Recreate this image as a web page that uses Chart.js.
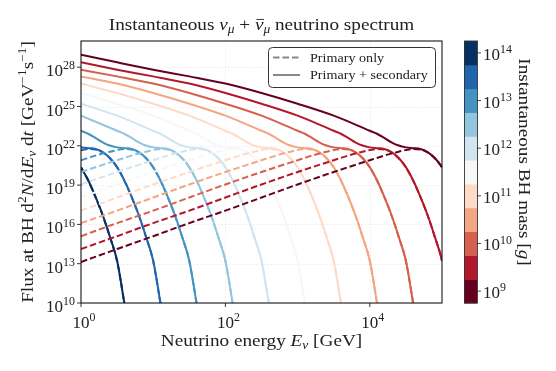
<!DOCTYPE html>
<html>
<head>
<meta charset="utf-8">
<script src="https://cdn.jsdelivr.net/npm/chart.js@4.4.1/dist/chart.umd.min.js"></script>
<style>
  html, body { margin: 0; padding: 0; background: #fff; }
  #wrap { width: 556px; height: 371px; }
</style>
</head>
<body>
<div id="wrap"><canvas id="spec" width="556" height="371"></canvas></div>
<script>
// axis ticks (powers of ten)
const xTickExps = [0, 2, 4];
const yTickExps = [10, 13, 16, 19, 22, 25, 28];

// black hole masses (log10 g) and their colours, lightest BH first
const massExps = [9, 9.5, 10, 10.5, 11, 11.5, 12, 12.5, 13, 13.5, 14];
const massColors = ['#67001f', '#b2182b', '#d6604d', '#f4a582', '#fddbc7', '#f7f7f7',
                    '#d1e5f0', '#92c5de', '#4393c3', '#2166ac', '#053061'];
const cbTickExps = [9, 10, 11, 12, 13, 14];

// curves: [log10 E/GeV, log10 flux]
// primary + secondary (solid)
const total_9_0 = [[0,28.95],[0.5,28.37],[1,27.81],[1.5,27.3],[2,26.75],[2.5,26.03],[3,25.21],[3.5,24.3],[4,23.15],[4.1,22.92],[4.2,22.6],[4.3,22.27],[4.4,22.02],[4.5,21.88],[4.6,21.82],[4.7,21.76],[4.8,21.52],[4.9,21.07],[5,20.37],[5.1,19.37]];
const total_9_5 = [[0,28.37],[0.5,27.81],[1,27.3],[1.5,26.75],[2,26.03],[2.5,25.21],[3,24.3],[3.5,23.15],[3.6,22.92],[3.7,22.6],[3.8,22.27],[3.9,22.02],[4,21.88],[4.1,21.82],[4.2,21.76],[4.3,21.52],[4.4,21.07],[4.5,20.37],[4.6,19.37],[4.7,18.12],[4.8,16.72],[4.9,15.07],[5,13.22],[5.1,10],[5.15,8.3]];
const total_10_0 = [[0,27.81],[0.5,27.3],[1,26.75],[1.5,26.03],[2,25.21],[2.5,24.3],[3,23.15],[3.1,22.92],[3.2,22.6],[3.3,22.27],[3.4,22.02],[3.5,21.88],[3.6,21.82],[3.7,21.76],[3.8,21.52],[3.9,21.07],[4,20.37],[4.1,19.37],[4.2,18.12],[4.3,16.72],[4.4,15.07],[4.5,13.22],[4.6,10],[4.65,8.3]];
const total_10_5 = [[0,27.3],[0.5,26.75],[1,26.03],[1.5,25.21],[2,24.3],[2.5,23.15],[2.6,22.92],[2.7,22.6],[2.8,22.27],[2.9,22.02],[3,21.88],[3.1,21.82],[3.2,21.76],[3.3,21.52],[3.4,21.07],[3.5,20.37],[3.6,19.37],[3.7,18.12],[3.8,16.72],[3.9,15.07],[4,13.22],[4.1,10],[4.15,8.3]];
const total_11_0 = [[0,26.75],[0.5,26.03],[1,25.21],[1.5,24.3],[2,23.15],[2.1,22.92],[2.2,22.6],[2.3,22.27],[2.4,22.02],[2.5,21.88],[2.6,21.82],[2.7,21.76],[2.8,21.52],[2.9,21.07],[3,20.37],[3.1,19.37],[3.2,18.12],[3.3,16.72],[3.4,15.07],[3.5,13.22],[3.6,10],[3.65,8.3]];
const total_11_5 = [[0,26.03],[0.5,25.21],[1,24.3],[1.5,23.15],[1.6,22.92],[1.7,22.6],[1.8,22.27],[1.9,22.02],[2,21.88],[2.1,21.82],[2.2,21.76],[2.3,21.52],[2.4,21.07],[2.5,20.37],[2.6,19.37],[2.7,18.12],[2.8,16.72],[2.9,15.07],[3,13.22],[3.1,10],[3.15,8.3]];
const total_12_0 = [[0,25.21],[0.5,24.3],[1,23.15],[1.1,22.92],[1.2,22.6],[1.3,22.27],[1.4,22.02],[1.5,21.88],[1.6,21.82],[1.7,21.76],[1.8,21.52],[1.9,21.07],[2,20.37],[2.1,19.37],[2.2,18.12],[2.3,16.72],[2.4,15.07],[2.5,13.22],[2.6,10],[2.65,8.3]];
const total_12_5 = [[0,24.3],[0.5,23.15],[0.6,22.92],[0.7,22.6],[0.8,22.27],[0.9,22.02],[1,21.88],[1.1,21.82],[1.2,21.76],[1.3,21.52],[1.4,21.07],[1.5,20.37],[1.6,19.37],[1.7,18.12],[1.8,16.72],[1.9,15.07],[2,13.22],[2.1,10],[2.15,8.3]];
const total_13_0 = [[0,23.15],[0.1,22.92],[0.2,22.6],[0.3,22.27],[0.4,22.02],[0.5,21.88],[0.6,21.82],[0.7,21.76],[0.8,21.52],[0.9,21.07],[1,20.37],[1.1,19.37],[1.2,18.12],[1.3,16.72],[1.4,15.07],[1.5,13.22],[1.6,10],[1.65,8.3]];
const total_13_5 = [[0,21.88],[0.1,21.82],[0.2,21.76],[0.3,21.52],[0.4,21.07],[0.5,20.37],[0.6,19.37],[0.7,18.12],[0.8,16.72],[0.9,15.07],[1,13.22],[1.1,10],[1.15,8.3]];
const total_14_0 = [[0,20.37],[0.1,19.37],[0.2,18.12],[0.3,16.72],[0.4,15.07],[0.5,13.22],[0.6,10],[0.65,8.3]];

// primary only (dashed)
const primary_9_0 = [[0,13.13],[0.5,14.12],[1,15.1],[1.5,16.1],[2,17.05],[2.5,18.05],[3,19.05],[3.5,20],[4,20.9],[4.2,21.25],[4.4,21.55],[4.6,21.75],[4.7,21.72],[4.8,21.5],[4.9,21.05],[5,20.35],[5.1,19.35]];
const primary_9_5 = [[0,14.12],[0.5,15.1],[1,16.1],[1.5,17.05],[2,18.05],[2.5,19.05],[3,20],[3.5,20.9],[3.7,21.25],[3.9,21.55],[4.1,21.75],[4.2,21.72],[4.3,21.5],[4.4,21.05],[4.5,20.35],[4.6,19.35],[4.7,18.1],[4.8,16.7],[4.9,15.05],[5,13.2],[5.1,10],[5.15,8.3]];
const primary_10_0 = [[0,15.1],[0.5,16.1],[1,17.05],[1.5,18.05],[2,19.05],[2.5,20],[3,20.9],[3.2,21.25],[3.4,21.55],[3.6,21.75],[3.7,21.72],[3.8,21.5],[3.9,21.05],[4,20.35],[4.1,19.35],[4.2,18.1],[4.3,16.7],[4.4,15.05],[4.5,13.2],[4.6,10],[4.65,8.3]];
const primary_10_5 = [[0,16.1],[0.5,17.05],[1,18.05],[1.5,19.05],[2,20],[2.5,20.9],[2.7,21.25],[2.9,21.55],[3.1,21.75],[3.2,21.72],[3.3,21.5],[3.4,21.05],[3.5,20.35],[3.6,19.35],[3.7,18.1],[3.8,16.7],[3.9,15.05],[4,13.2],[4.1,10],[4.15,8.3]];
const primary_11_0 = [[0,17.05],[0.5,18.05],[1,19.05],[1.5,20],[2,20.9],[2.2,21.25],[2.4,21.55],[2.6,21.75],[2.7,21.72],[2.8,21.5],[2.9,21.05],[3,20.35],[3.1,19.35],[3.2,18.1],[3.3,16.7],[3.4,15.05],[3.5,13.2],[3.6,10],[3.65,8.3]];
const primary_11_5 = [[0,18.05],[0.5,19.05],[1,20],[1.5,20.9],[1.7,21.25],[1.9,21.55],[2.1,21.75],[2.2,21.72],[2.3,21.5],[2.4,21.05],[2.5,20.35],[2.6,19.35],[2.7,18.1],[2.8,16.7],[2.9,15.05],[3,13.2],[3.1,10],[3.15,8.3]];
const primary_12_0 = [[0,19.05],[0.5,20],[1,20.9],[1.2,21.25],[1.4,21.55],[1.6,21.75],[1.7,21.72],[1.8,21.5],[1.9,21.05],[2,20.35],[2.1,19.35],[2.2,18.1],[2.3,16.7],[2.4,15.05],[2.5,13.2],[2.6,10],[2.65,8.3]];
const primary_12_5 = [[0,20],[0.5,20.9],[0.7,21.25],[0.9,21.55],[1.1,21.75],[1.2,21.72],[1.3,21.5],[1.4,21.05],[1.5,20.35],[1.6,19.35],[1.7,18.1],[1.8,16.7],[1.9,15.05],[2,13.2],[2.1,10],[2.15,8.3]];
const primary_13_0 = [[0,20.9],[0.2,21.25],[0.4,21.55],[0.6,21.75],[0.7,21.72],[0.8,21.5],[0.9,21.05],[1,20.35],[1.1,19.35],[1.2,18.1],[1.3,16.7],[1.4,15.05],[1.5,13.2],[1.6,10],[1.65,8.3]];
const primary_13_5 = [[0,21.65],[0.1,21.75],[0.2,21.72],[0.3,21.5],[0.4,21.05],[0.5,20.35],[0.6,19.35],[0.7,18.1],[0.8,16.7],[0.9,15.05],[1,13.2],[1.1,10],[1.15,8.3]];
const primary_14_0 = [[0,20.35],[0.1,19.35],[0.2,18.1],[0.3,16.7],[0.4,15.05],[0.5,13.2],[0.6,10],[0.65,8.3]];

const totalCurves = [total_9_0, total_9_5, total_10_0, total_10_5, total_11_0, total_11_5,
                     total_12_0, total_12_5, total_13_0, total_13_5, total_14_0];
const primaryCurves = [primary_9_0, primary_9_5, primary_10_0, primary_10_5, primary_11_0, primary_11_5,
                       primary_12_0, primary_12_5, primary_13_0, primary_13_5, primary_14_0];

const FONT = '"Liberation Serif", "DejaVu Serif", serif';
const WIDE = 1.13;   // computer-modern letters run wider than Times
const toPts = arr => arr.map(p => ({ x: Math.pow(10, p[0]), y: Math.pow(10, p[1]) }));

const datasets = [];
massExps.forEach((m, i) => {
    datasets.push({
        label: 'total ' + m, data: toPts(totalCurves[i]), borderColor: massColors[i],
        borderWidth: 2, order: 1
    });
    datasets.push({
        label: 'primary ' + m, data: toPts(primaryCurves[i]), borderColor: massColors[i],
        borderWidth: 2, borderDash: [6.5, 3], order: 0
    });
});

// draws a string made of pieces (italic, sub/superscript, bar)
function richText(ctx, segs, x, y, size, align, sx) {
    sx = sx || 1;
    let w = 0;
    const parts = segs.map(s => {
        const small = s.sub || s.sup;
        const fs = small ? size * 0.7 : size;
        const font = (s.it ? 'italic ' : '') + fs + 'px ' + FONT;
        ctx.font = font;
        const sw = ctx.measureText(s.t).width * sx;
        w += sw;
        return { s, font, sw, fs, dy: s.sub ? size * 0.2 : (s.sup ? -size * 0.4 : 0) };
    });
    let cx = align === 'center' ? x - w / 2 : (align === 'right' ? x - w : x);
    ctx.textAlign = 'left';
    ctx.textBaseline = 'alphabetic';
    parts.forEach(p => {
        ctx.font = p.font;
        ctx.save();
        ctx.translate(cx, y + p.dy);
        ctx.scale(sx, 1);
        ctx.fillText(p.s.t, 0, 0);
        ctx.restore();
        if (p.s.bar) {
            ctx.save();
            ctx.lineWidth = 0.9;
            ctx.strokeStyle = ctx.fillStyle;
            ctx.beginPath();
            ctx.moveTo(cx + 1.5, y - p.fs * 0.62);
            ctx.lineTo(cx + p.sw + 0.5, y - p.fs * 0.62);
            ctx.stroke();
            ctx.restore();
        }
        cx += p.sw;
    });
    return w;
}

const decorations = {
    id: 'decorations',
    beforeDatasetsDraw(chart) {
        const { ctx, chartArea: a, scales } = chart;
        ctx.save();
        ctx.strokeStyle = 'rgba(0,0,0,0.08)';
        ctx.lineWidth = 0.8;
        ctx.setLineDash([2, 1.5]);
        xTickExps.forEach(e => {
            const px = Math.round(scales.x.getPixelForValue(Math.pow(10, e))) + 0.5;
            ctx.beginPath(); ctx.moveTo(px, a.top); ctx.lineTo(px, a.bottom); ctx.stroke();
        });
        yTickExps.forEach(e => {
            const py = Math.round(scales.y.getPixelForValue(Math.pow(10, e))) + 0.5;
            ctx.beginPath(); ctx.moveTo(a.left, py); ctx.lineTo(a.right, py); ctx.stroke();
        });
        ctx.restore();
    },
    afterDraw(chart) {
        const { ctx, chartArea: a, scales } = chart;
        ctx.save();
        // frame
        ctx.strokeStyle = '#000';
        ctx.lineWidth = 1;
        ctx.strokeRect(a.left, a.top, a.right - a.left, a.bottom - a.top);

        // ticks + labels
        ctx.fillStyle = '#222';
        ctx.strokeStyle = '#222';
        ctx.lineWidth = 0.9;
        xTickExps.forEach(e => {
            const px = scales.x.getPixelForValue(Math.pow(10, e));
            ctx.beginPath(); ctx.moveTo(px, a.bottom); ctx.lineTo(px, a.bottom + 4); ctx.stroke();
            richText(ctx, [{ t: '10' }, { t: String(e), sup: true }], px + 3, a.bottom + 25, 17, 'center');
        });
        yTickExps.forEach(e => {
            const py = scales.y.getPixelForValue(Math.pow(10, e));
            ctx.beginPath(); ctx.moveTo(a.left, py); ctx.lineTo(a.left - 4, py); ctx.stroke();
            richText(ctx, [{ t: '10' }, { t: String(e), sup: true }], a.left - 6, py + 9, 17, 'right');
        });

        // title
        ctx.fillStyle = '#222';
        richText(ctx, [
            { t: 'Instantaneous ' }, { t: 'ν', it: true }, { t: 'μ', it: true, sub: true },
            { t: ' + ' }, { t: 'ν', it: true, bar: true }, { t: 'μ', it: true, sub: true },
            { t: ' neutrino spectrum' }
        ], (a.left + a.right) / 2, 30, 17, 'center', WIDE);

        // x label
        richText(ctx, [
            { t: 'Neutrino energy ' }, { t: 'E', it: true }, { t: 'ν', it: true, sub: true }, { t: ' [GeV]' }
        ], (a.left + a.right) / 2, 346, 17, 'center', WIDE);

        // y label
        ctx.save();
        ctx.translate(33, (a.top + a.bottom) / 2);
        ctx.rotate(-Math.PI / 2);
        richText(ctx, [
            { t: 'Flux at BH d' }, { t: '2', sup: true }, { t: 'N', it: true }, { t: '/d' },
            { t: 'E', it: true }, { t: 'ν', it: true, sub: true }, { t: ' d' }, { t: 't', it: true },
            { t: ' [GeV' }, { t: '−1', sup: true }, { t: 's' }, { t: '−1', sup: true }, { t: ']' }
        ], 0, 0, 17, 'center', WIDE);
        ctx.restore();

        // legend
        const lx = 268, ly = 47, lw = 167, lh = 40;
        ctx.fillStyle = 'rgba(255,255,255,0.9)';
        ctx.strokeStyle = '#333';
        ctx.lineWidth = 1;
        ctx.beginPath();
        ctx.roundRect(lx + 0.5, ly + 0.5, lw, lh, 4);
        ctx.fill(); ctx.stroke();
        ctx.strokeStyle = '#888';
        ctx.lineWidth = 2;
        ctx.setLineDash([6.5, 3]);
        ctx.beginPath(); ctx.moveTo(273, 57.5); ctx.lineTo(300, 57.5); ctx.stroke();
        ctx.setLineDash([]);
        ctx.beginPath(); ctx.moveTo(273, 75); ctx.lineTo(300, 75); ctx.stroke();
        ctx.fillStyle = '#222';
        richText(ctx, [{ t: 'Primary only' }], 310, 61.5, 12.5, 'left', WIDE);
        richText(ctx, [{ t: 'Primary + secondary' }], 310, 79, 12.5, 'left', WIDE);

        // colour bar
        const cbL = 464, cbR = 477, cbT = a.top, cbB = a.bottom;
        const lo = massExps[0] - 0.25, hi = massExps[massExps.length - 1] + 0.25;
        const cy = v => cbB - (v - lo) / (hi - lo) * (cbB - cbT);
        massExps.forEach((m, i) => {
            ctx.fillStyle = massColors[i];
            const y0 = cy(m + 0.25), y1 = cy(m - 0.25);
            ctx.fillRect(cbL, y0, cbR - cbL, y1 - y0 + 0.5);
        });
        ctx.strokeStyle = '#333';
        ctx.lineWidth = 0.9;
        ctx.strokeRect(cbL + 0.5, cbT, cbR - cbL, cbB - cbT);
        ctx.fillStyle = '#222';
        cbTickExps.forEach(e => {
            const py = cy(e);
            ctx.beginPath(); ctx.moveTo(cbR, py); ctx.lineTo(cbR + 4, py); ctx.stroke();
            richText(ctx, [{ t: '10' }, { t: String(e), sup: true }], cbR + 6, py + 7, 17, 'left');
        });
        ctx.save();
        ctx.translate(519, 162);
        ctx.rotate(Math.PI / 2);
        richText(ctx, [{ t: 'Instantaneous BH mass [' }, { t: 'g', it: true }, { t: ']' }], 0, 0, 17, 'center', WIDE);
        ctx.restore();
        ctx.restore();
    }
};

new Chart(document.getElementById('spec'), {
    type: 'line',
    data: { datasets: datasets },
    options: {
        responsive: false,
        animation: false,
        devicePixelRatio: 1,
        layout: { padding: { left: 81, right: 114, top: 41, bottom: 68 } },
        elements: {
            point: { radius: 0 },
            line: { cubicInterpolationMode: 'monotone', fill: false }
        },
        datasets: { line: { clip: 0 } },
        scales: {
            x: {
                type: 'logarithmic', min: 1, max: 1e5,
                ticks: { display: false },
                grid: { display: false, drawTicks: false },
                border: { display: false }
            },
            y: {
                type: 'logarithmic', min: 1e10, max: 1e30,
                ticks: { display: false },
                grid: { display: false, drawTicks: false },
                border: { display: false }
            }
        },
        plugins: {
            legend: { display: false },
            tooltip: { enabled: false }
        }
    },
    plugins: [decorations]
});
</script>
</body>
</html>
